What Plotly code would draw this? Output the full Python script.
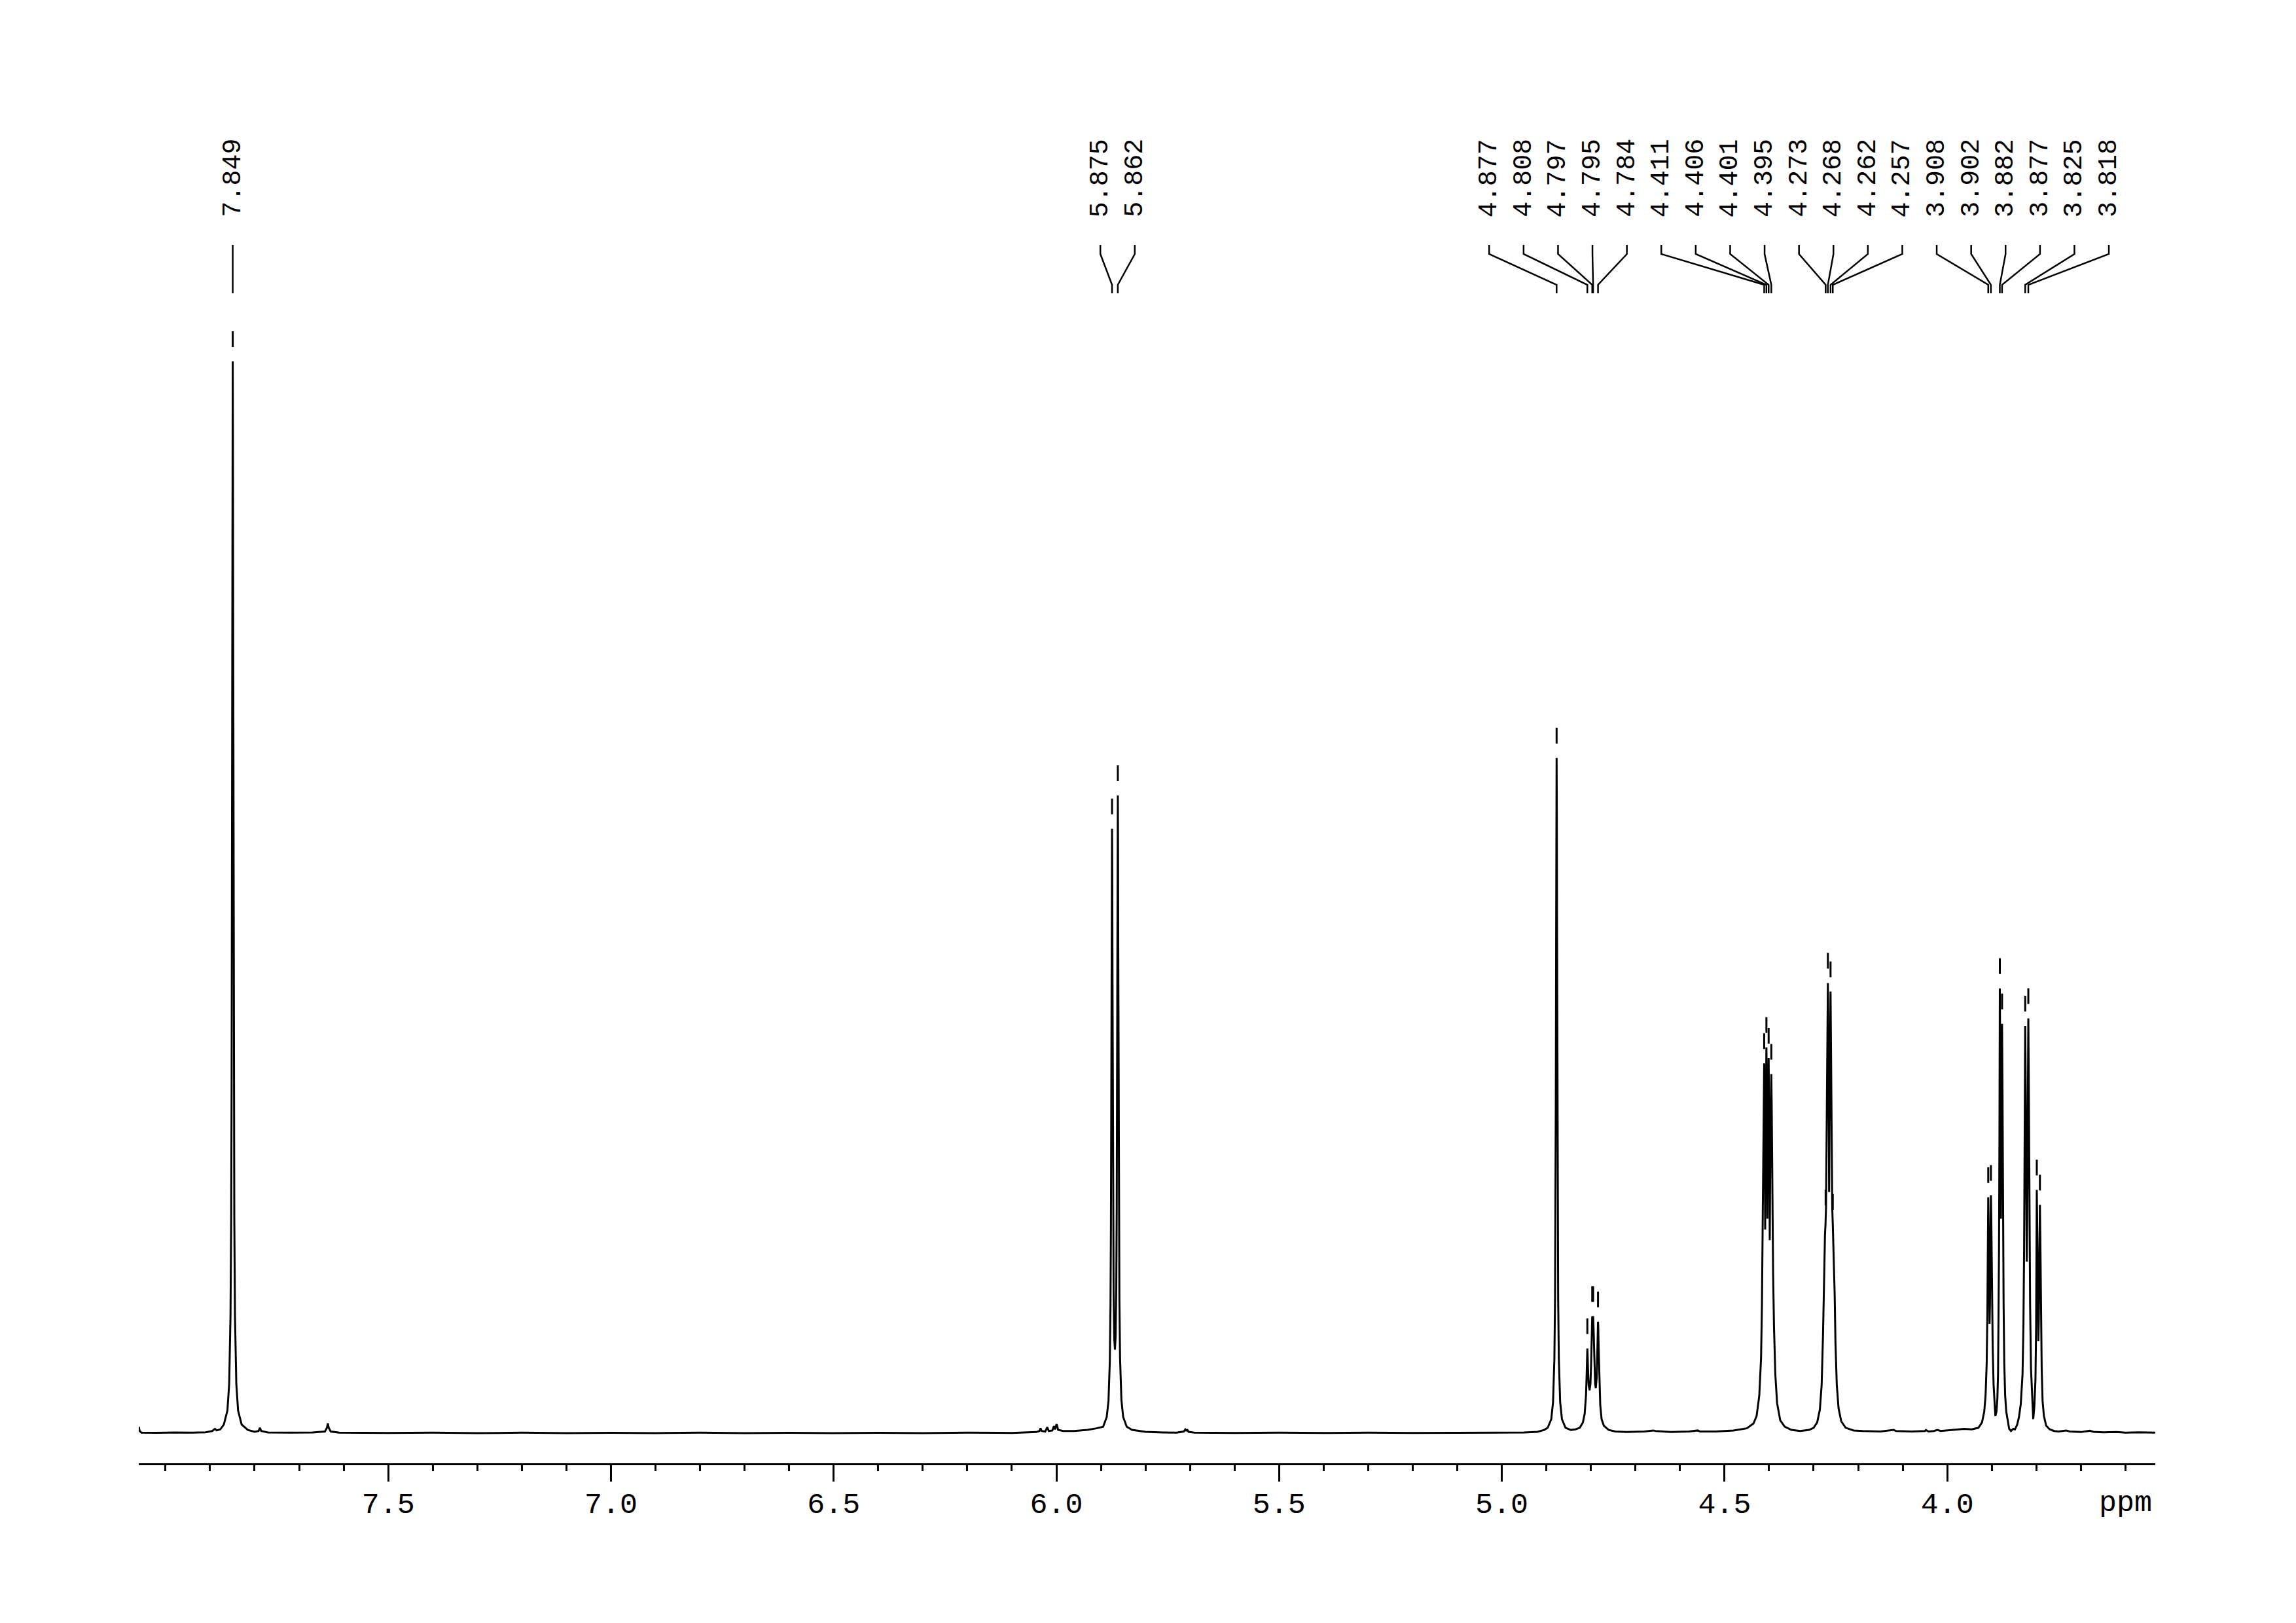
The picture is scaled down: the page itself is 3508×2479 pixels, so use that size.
import numpy as np
import plotly.graph_objects as go

FONT = "Liberation Mono"

# ---- traced 1H spectrum, (ppm, intensity) with the 7.849 singlet = 100 ----
seg_start = [(8.060, 0.6), (8.058, 0.2), (8.054, 0.05), (8.02, 0.03), (7.98, 0.06), (7.94, 0.04),
             (7.91, 0.08), (7.895, 0.2), (7.889, 0.4), (7.885, 0.25), (7.877, 0.35)]
seg_7849 = [(7.869, 0.8), (7.861, 2.1), (7.857, 4.6), (7.854, 11), (7.8525, 20), (7.8515, 33),
            (7.85075, 50), (7.85, 75), (7.8495, 92), (7.849, 100), (7.8485, 92), (7.848, 75),
            (7.84725, 50), (7.8465, 33), (7.8455, 20), (7.844, 11), (7.841, 4.6), (7.837, 2.1),
            (7.829, 0.8), (7.815, 0.3)]
seg_arom_base = [(7.800, 0.12), (7.791, 0.2), (7.788, 0.5), (7.785, 0.2), (7.77, 0.06), (7.72, 0.04),
                 (7.67, 0.06), (7.642, 0.15), (7.6375, 0.5), (7.6355, 0.9), (7.6335, 0.5), (7.629, 0.15),
                 (7.61, 0.05), (7.5, 0.02), (7.4, 0.05), (7.3, 0.0), (7.2, 0.04), (7.1, 0.0), (7.0, 0.03),
                 (6.9, 0.0), (6.8, 0.04), (6.7, 0.0), (6.6, 0.03), (6.5, 0.0), (6.4, 0.03), (6.3, 0.0),
                 (6.2, 0.04), (6.1, 0.02), (6.06, 0.05)]
seg_6ppm = [(6.045, 0.1), (6.038, 0.2), (6.0355, 0.45), (6.033, 0.2), (6.025, 0.15), (6.0205, 0.55),
            (6.017, 0.2), (6.009, 0.25), (6.0055, 0.65), (6.003, 0.35), (5.9995, 0.85), (5.996, 0.3),
            (5.985, 0.2), (5.96, 0.2), (5.93, 0.3), (5.91, 0.45), (5.895, 0.6)]
seg_5870 = [(5.887, 1.5), (5.883, 3.0), (5.880, 6.7), (5.8785, 11.9), (5.8775, 19.2), (5.87675, 28.8),
            (5.876, 42.4), (5.8755, 51.8), (5.875, 56.4), (5.8745, 52.0), (5.874, 42.7), (5.87325, 29.3),
            (5.8725, 20.1), (5.8715, 13.1), (5.870, 8.8), (5.8685, 7.8), (5.867, 9.0), (5.8655, 13.6),
            (5.8645, 21.0), (5.86375, 30.6), (5.863, 45.0), (5.8625, 54.6), (5.862, 59.5), (5.8615, 54.5),
            (5.861, 44.6), (5.86025, 30.1), (5.8595, 20.1), (5.8585, 12.4), (5.857, 7.0), (5.854, 3.1),
            (5.850, 1.5), (5.842, 0.6), (5.83, 0.3), (5.80, 0.12), (5.76, 0.06)]
seg_571 = [(5.73, 0.05), (5.714, 0.15), (5.7105, 0.35), (5.708, 0.2), (5.7065, 0.35), (5.703, 0.12),
           (5.69, 0.04), (5.6, 0.02), (5.5, 0.04), (5.4, 0.01), (5.3, 0.04), (5.2, 0.02), (5.1, 0.04),
           (5.0, 0.03), (4.95, 0.06), (4.92, 0.12), (4.905, 0.3)]
seg_4877 = [(4.897, 0.5), (4.889, 1.3), (4.885, 2.9), (4.882, 6.9), (4.8805, 12.6), (4.8795, 20.8),
            (4.87875, 31.5), (4.878, 47), (4.8775, 58), (4.877, 63), (4.8765, 58), (4.876, 47),
            (4.87525, 31.5), (4.8745, 20.8), (4.8735, 12.6), (4.872, 6.9), (4.869, 2.9), (4.865, 1.3),
            (4.857, 0.5), (4.845, 0.3), (4.835, 0.35)]
seg_4796 = [(4.825, 0.5), (4.818, 1.0), (4.814, 1.8), (4.811, 3.5), (4.8095, 5.5), (4.8085, 7.3),
            (4.808, 7.9), (4.8075, 7.4), (4.8065, 6.0), (4.805, 4.5), (4.803, 4.0), (4.801, 4.6),
            (4.7995, 6.5), (4.798, 9.5), (4.797, 10.9), (4.796, 10.6), (4.795, 10.9), (4.794, 9.7),
            (4.7925, 6.8), (4.7905, 4.6), (4.789, 4.2), (4.787, 5.2), (4.7855, 7.6), (4.7845, 9.8),
            (4.784, 10.4), (4.7835, 9.9), (4.7825, 7.8), (4.781, 4.8), (4.779, 2.6), (4.776, 1.3),
            (4.771, 0.7), (4.76, 0.3), (4.745, 0.15)]
seg_mid_base = [(4.72, 0.1), (4.68, 0.15), (4.66, 0.25), (4.655, 0.2), (4.62, 0.1), (4.58, 0.15),
                (4.56, 0.25), (4.555, 0.15), (4.52, 0.15), (4.48, 0.25), (4.45, 0.45), (4.435, 0.9)]
seg_4400 = [(4.428, 1.6), (4.422, 3.5), (4.418, 7), (4.416, 12), (4.4145, 19), (4.413, 27),
            (4.4118, 33), (4.411, 34.5), (4.4100, 30), (4.4088, 19), (4.4074, 30), (4.406, 36),
            (4.405, 32), (4.4038, 20), (4.4024, 30), (4.401, 35), (4.400, 30), (4.3985, 18),
            (4.397, 28), (4.395, 33.5), (4.394, 30), (4.3925, 22), (4.391, 15), (4.389, 10),
            (4.386, 5.5), (4.382, 2.8), (4.375, 1.2), (4.365, 0.6), (4.35, 0.3), (4.33, 0.2),
            (4.31, 0.3), (4.30, 0.5)]
seg_4265 = [(4.292, 1.0), (4.286, 2.2), (4.282, 4.5), (4.279, 9), (4.2772, 14), (4.2758, 17),
            (4.2745, 18.5), (4.2733, 19.5), (4.2722, 21), (4.271, 27), (4.2695, 36), (4.2686, 41),
            (4.268, 42), (4.2672, 39), (4.2662, 30), (4.2652, 22.5), (4.2643, 29), (4.2632, 38),
            (4.2625, 40.6), (4.262, 41.2), (4.261, 36), (4.2595, 26), (4.2582, 21), (4.257, 19.5),
            (4.256, 18.2), (4.2545, 16.5), (4.2528, 13), (4.251, 8.5), (4.248, 4.5), (4.244, 2.3),
            (4.238, 1.1), (4.228, 0.5), (4.21, 0.25)]
seg_4100 = [(4.19, 0.2), (4.15, 0.15), (4.12, 0.3), (4.115, 0.2), (4.08, 0.15), (4.05, 0.2),
            (4.048, 0.3), (4.042, 0.15), (4.03, 0.2), (4.022, 0.3), (4.015, 0.2), (3.99, 0.3),
            (3.962, 0.4), (3.945, 0.35), (3.93, 0.5)]
seg_3900 = [(3.922, 1.0), (3.917, 2.0), (3.914, 3.5), (3.9115, 6.5), (3.910, 11), (3.909, 17),
            (3.908, 22), (3.907, 19), (3.9058, 13), (3.905, 10.2), (3.9042, 12), (3.903, 19),
            (3.902, 22.2), (3.901, 19.5), (3.8995, 13), (3.898, 8), (3.896, 4.5), (3.8935, 2.3),
            (3.892, 1.6), (3.8895, 2.0), (3.8875, 3.2), (3.886, 5.5), (3.8848, 10), (3.8838, 17),
            (3.8828, 28), (3.882, 41.5), (3.881, 34), (3.8795, 20), (3.878, 31), (3.877, 38.2),
            (3.876, 32), (3.8748, 21), (3.8735, 12), (3.872, 6.5), (3.870, 3.5), (3.8675, 2.0),
            (3.864, 1.0), (3.861, 0.4), (3.857, 0.2), (3.852, 0.4), (3.848, 0.35), (3.843, 0.8),
            (3.839, 1.5)]
seg_3820 = [(3.835, 2.7), (3.831, 5.5), (3.829, 10), (3.8275, 17), (3.8262, 27), (3.825, 38),
            (3.824, 33), (3.8225, 22), (3.8215, 16), (3.8205, 20), (3.8195, 30), (3.818, 38.7),
            (3.817, 33), (3.8155, 21), (3.814, 12), (3.812, 6), (3.8095, 3.0), (3.807, 1.3),
            (3.8045, 2.5), (3.802, 5), (3.8005, 10), (3.7995, 17), (3.799, 22.7), (3.798, 19),
            (3.7965, 11), (3.7955, 8.6), (3.7945, 10.5), (3.793, 17), (3.792, 21.3), (3.791, 18),
            (3.7895, 11), (3.788, 6), (3.786, 3), (3.783, 1.6), (3.778, 0.7), (3.77, 0.35), (3.76, 0.2)]
seg_end = [(3.75, 0.15), (3.733, 0.25), (3.725, 0.15), (3.70, 0.1), (3.68, 0.22), (3.672, 0.12),
           (3.65, 0.08), (3.62, 0.1), (3.6, 0.05), (3.57, 0.08), (3.533, 0.05)]

segments = [seg_start, seg_7849, seg_arom_base, seg_6ppm, seg_5870, seg_571, seg_4877, seg_4796,
            seg_mid_base, seg_4400, seg_4265, seg_4100, seg_3900, seg_3820, seg_end]

# ---- picked peaks and label groups ----
pick_ppm = [7.849, 5.875, 5.862, 4.877, 4.808, 4.797, 4.795, 4.784, 4.411, 4.406, 4.401, 4.395,
            4.273, 4.268, 4.262, 4.257, 3.908, 3.902, 3.882, 3.877, 3.825, 3.818, 3.799, 3.792]
label_groups = [[7.849],
                [5.875, 5.862],
                [4.877, 4.808, 4.797, 4.795, 4.784, 4.411, 4.406, 4.401, 4.395,
                 4.273, 4.268, 4.262, 4.257, 3.908, 3.902, 3.882, 3.877, 3.825, 3.818]]

major_ticks = [8.0, 7.5, 7.0, 6.5, 6.0, 5.5, 5.0, 4.5, 4.0]
major_text = ["", "7.5", "7.0", "6.5", "6.0", "5.5", "5.0", "4.5", "4.0"]
axis_unit = "ppm"

# ---- geometry ----
W, H = 3508, 2479
ML, MR, MT, MB = 212, 215, 150, 244
X_RANGE = [8.060, 3.533]
PXU = 16.37                       # px per intensity unit
Y_RANGE = [-46 / PXU, (2189 - MT) / PXU]
PX_PER_PPM = (W - ML - MR) / (X_RANGE[0] - X_RANGE[1])
PLOT_H = H - MT - MB
GROUP_SHIFT_PX = [0, 4, 10]       # small horizontal nudge of each label fan


def yu(px_y):
    """page y pixel -> intensity units"""
    return (2189 - px_y) / PXU


ppm = [p for s in segments for p, _ in s]
inten = [v for s in segments for _, v in s]

fig = go.Figure()
fig.add_trace(go.Scatter(x=ppm, y=inten, mode="lines", line=dict(color="black", width=3),
                         hoverinfo="skip", showlegend=False))

# peak markers (short dashes above picked peaks)
xp = np.array(ppm[::-1]); yp = np.array(inten[::-1])
mx, my = [], []
for p in pick_ppm:
    h = float(np.interp(p, xp, yp))
    mx += [p, p, None]
    my += [h + 22 / PXU, h + 46 / PXU, None]
fig.add_trace(go.Scatter(x=mx, y=my, mode="lines", line=dict(color="black", width=3),
                         hoverinfo="skip", showlegend=False))

# label connector lines and labels
spacing = 52.6 / PX_PER_PPM
cx, cy = [], []
annotations = []
for grp, shift in zip(label_groups, GROUP_SHIFT_PX):
    n = len(grp)
    centre = (max(grp) + min(grp)) / 2 - shift / PX_PER_PPM
    for i, p in enumerate(grp):
        lx = centre + ((n - 1) / 2 - i) * spacing
        cx += [lx, lx, p, p, None]
        cy += [yu(374), yu(388), yu(435), yu(448), None]
        annotations.append(dict(x=lx, y=yu(333), xref="x", yref="y", text=f"{p:.3f}",
                                textangle=-90, showarrow=False, xanchor="center", yanchor="bottom",
                                font=dict(family=FONT, size=40, color="black"), borderpad=0))
fig.add_trace(go.Scatter(x=cx, y=cy, mode="lines", line=dict(color="black", width=2.5),
                         hoverinfo="skip", showlegend=False))

annotations.append(dict(x=3.6, y=(H - MB - 2296) / PLOT_H, xref="x", yref="paper", text=axis_unit,
                        showarrow=False, xanchor="center", yanchor="middle",
                        font=dict(family=FONT, size=45, color="black")))

minor_vals = [round(8.0 - 0.1 * i, 1) for i in range(45)]

fig.update_layout(
    width=W, height=H, margin=dict(l=ML, r=MR, t=MT, b=MB),
    paper_bgcolor="white", plot_bgcolor="white",
    annotations=annotations,
    xaxis=dict(range=X_RANGE, showgrid=False, zeroline=False, showline=True, linecolor="black",
               linewidth=3, ticks="outside", ticklen=25, tickwidth=3, tickcolor="black",
               tickmode="array", tickvals=major_ticks, ticktext=major_text,
               tickfont=dict(family=FONT, size=45, color="black"),
               minor=dict(tickmode="array", tickvals=minor_vals, ticks="outside", ticklen=9,
                          tickwidth=3, tickcolor="black", showgrid=False)),
    yaxis=dict(range=Y_RANGE, visible=False, showgrid=False, zeroline=False),
)
try:
    fig.update_xaxes(ticklabelstandoff=-6)
except Exception:
    fig.update_xaxes(ticklabelstandoff=0)

fig.write_html("out.html", config={"displayModeBar": False},
               post_script="document.body.style.margin='0px';")
